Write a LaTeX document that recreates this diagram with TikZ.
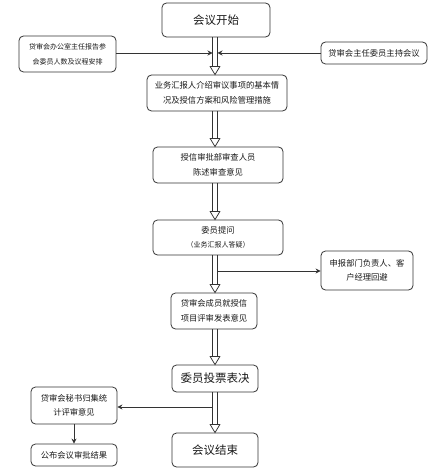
\documentclass[tikz,border=0pt]{standalone}
\usepackage{fontspec}
\setmainfont{Noto Sans CJK SC}
\usetikzlibrary{arrows.meta,calc}
\tikzset{
  box/.style={draw=black!80, line width=0.8pt, rounded corners=4.5pt, align=center, inner sep=1pt,
    font=\fontsize{8.3}{14.5}\selectfont, text=black!90},
  bigbox/.style={box, font=\fontsize{11.5}{14}\selectfont},
  smallbox/.style={box, font=\fontsize{7}{15}\selectfont},
  shaftline/.style={draw=black!80, line width=0.75pt},
  headline/.style={draw=black!80, fill=white, line width=0.75pt, line join=miter},
  thin arrow/.style={draw=black!80, line width=0.8pt, -{Stealth[length=5pt,width=5pt]}}
}
\newcommand{\hollowarrow}[2]{%
  \draw[shaftline] ($(#1)+(-2.5,0)$) -- ($(#2)+(-2.5,-8)$);
  \draw[shaftline] ($(#1)+(2.5,0)$) -- ($(#2)+(2.5,-8)$);
  \draw[headline] ($(#2)+(-4.8,-8)$) -- ($(#2)+(4.8,-8)$) -- (#2) -- cycle;
}
\begin{document}
\begin{tikzpicture}[x=1pt,y=-1pt]
\useasboundingbox (0,0) rectangle (446,473);
\coordinate (shaft) at (215,0);
\coordinate (jL) at (212.5,53);
\coordinate (jR) at (217.5,53);
\coordinate (kR) at (217.5,271);
\coordinate (kL) at (212.5,407);

\node[bigbox, minimum width=108pt, minimum height=34pt] (start) at (216,20) {会议开始};
\node[smallbox, minimum width=97pt, minimum height=36pt] (lbox) at (67.5,54) {贷审会办公室主任报告参\\会委员人数及议程安排};
\node[box, minimum width=106pt, minimum height=22pt] (rbox) at (374,53) {贷审会主任委员主持会议};
\node[box, minimum width=140pt, minimum height=36pt] (b2) at (217,93) {业务汇报人介绍审议事项的基本情\\况及授信方案和风险管理措施};
\node[box, minimum width=130pt, minimum height=36pt] (b3) at (218,165) {授信审批部审查人员\\陈述审查意见};
\node[box, minimum width=130pt, minimum height=35pt] (b4) at (218,237.5) {委员提问\\{\fontsize{7}{10}\selectfont （业务汇报人答疑）}};
\node[box, minimum width=92pt, minimum height=39pt] (b5) at (367,270.5) {申报部门负责人、客\\户经理回避};
\node[box, minimum width=86pt, minimum height=36pt] (b6) at (214,311) {贷审会成员就授信\\项目评审发表意见};
\node[bigbox, minimum width=86pt, minimum height=27pt] (b7) at (215,378.5) {委员投票表决};
\node[box, minimum width=86pt, minimum height=37pt] (b8) at (74,405.5) {贷审会秘书归集统\\计评审意见};
\node[box, minimum width=86pt, minimum height=22pt] (b9) at (74,455) {公布会议审批结果};
\node[bigbox, minimum width=86pt, minimum height=34pt] (b10) at (215,450) {会议结束};

\hollowarrow{start.south -| shaft}{b2.north -| shaft}
\hollowarrow{b2.south -| shaft}{b3.north -| shaft}
\hollowarrow{b3.south -| shaft}{b4.north -| shaft}
\hollowarrow{b4.south -| shaft}{b6.north -| shaft}
\hollowarrow{b6.south -| shaft}{b7.north -| shaft}
\hollowarrow{b7.south -| shaft}{b10.north -| shaft}

\draw[thin arrow] (lbox.east |- jL) -- (jL);
\draw[thin arrow] (rbox.west |- jR) -- (jR);
\draw[thin arrow] (kR) -- (kR -| b5.west);
\draw[thin arrow] (kL) -- (kL -| b8.east);
\draw[thin arrow] (b8.south) -- (b9.north);
\end{tikzpicture}
\end{document}
